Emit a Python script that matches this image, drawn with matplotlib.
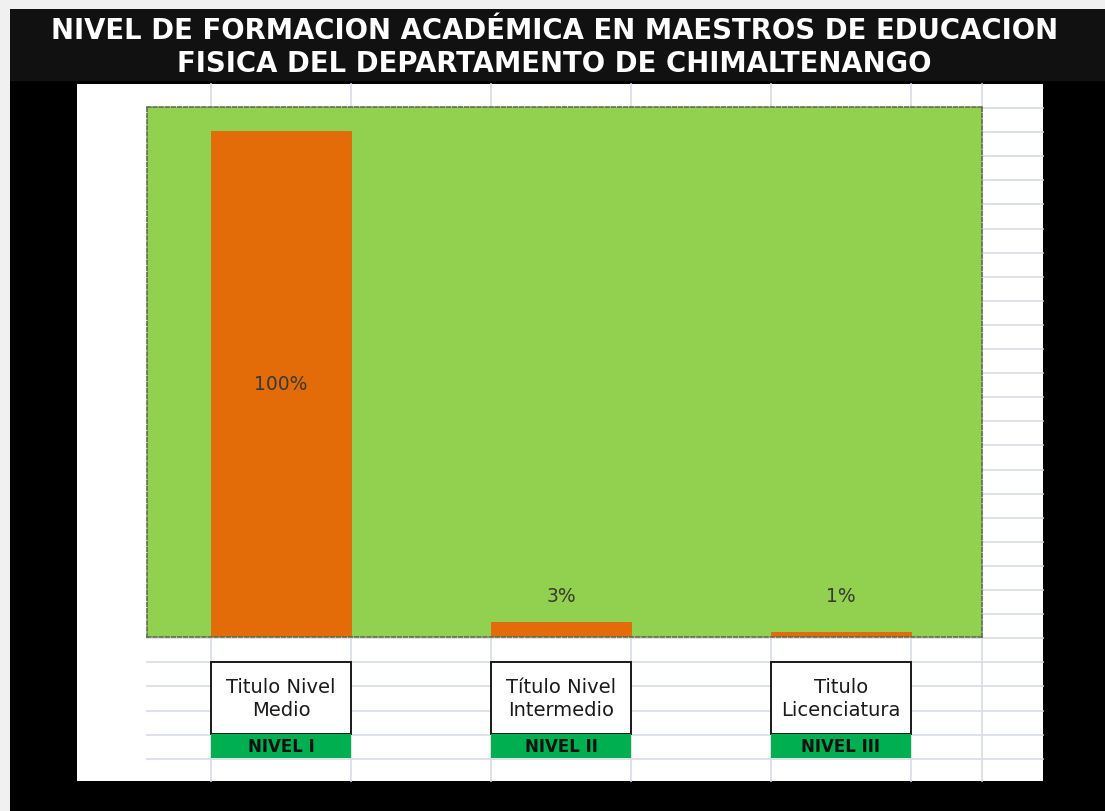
import matplotlib
matplotlib.use("Agg")
import matplotlib.pyplot as plt
from matplotlib.patches import Rectangle
import matplotlib.transforms as mtransforms

# data
categorias = ["Titulo Nivel\nMedio", "Título Nivel\nIntermedio", "Titulo\nLicenciatura"]
niveles = ["NIVEL I", "NIVEL II", "NIVEL III"]
porcentajes = [100, 3, 1]
etiquetas = ["100%", "3%", "1%"]

titulo = ["NIVEL DE FORMACION ACADÉMICA EN MAESTROS DE EDUCACION",
          "FISICA DEL DEPARTAMENTO DE CHIMALTENANGO"]

W, H = 1105, 812
fig = plt.figure(figsize=(W / 100, H / 100), dpi=100, facecolor="black")

# background "sheet" drawn in pixel coords
bg = fig.add_axes([0, 0, 1, 1])
bg.set_xlim(0, W)
bg.set_ylim(H, 0)
bg.axis("off")
bg.add_patch(Rectangle((0, 0), W, 10, color="#f0f0f0", lw=0))
bg.add_patch(Rectangle((0, 0), 10, H, color="#f0f0f0", lw=0))
bg.add_patch(Rectangle((10, 10), W - 10, 72, color="#111111", lw=0))
bg.add_patch(Rectangle((77, 85), 966, 697, color="white", lw=0))

grid_c = "#d9dce6"
for gx in [211, 351, 491, 631, 771, 911, 982]:
    bg.plot([gx, gx], [85, 782], color=grid_c, lw=1.2)
gy = 109
while gy < 782:
    bg.plot([147, 1043], [gy, gy], color=grid_c, lw=1.2)
    gy += 24.1

for k, line in enumerate(titulo):
    bg.text(W / 2 + 2, 31 + 32.5 * k, line, color="white", fontsize=19.8,
            fontweight="bold", ha="center", va="center", family="DejaVu Sans")

# chart area
ax = fig.add_axes([147 / W, (H - 638) / H, 835 / W, 530 / H])
ax.set_facecolor("#92D050")
x = list(range(len(porcentajes)))
ax.bar(x, porcentajes, width=0.5, color="#E36C09", edgecolor="#d8690f", lw=0.6, zorder=2)
ax.set_xlim(-0.4786, 2.5036)
ax.set_ylim(0, 104.7)
ax.set_xticks([])
ax.set_yticks([])
for s in ax.spines.values():
    s.set_linestyle((0, (2.5, 1.5)))
    s.set_color("#5b6447")
    s.set_linewidth(1.1)

for xi, v, lab in zip(x, porcentajes, etiquetas):
    yl = v / 2 if v > 20 else 8.1
    ax.text(xi, yl, lab, ha="center", va="center", fontsize=13.5,
            color="#3a3a30", zorder=3)

# category boxes below the axis (x in data units, y in pixels)
tr = mtransforms.blended_transform_factory(ax.transData, bg.transData)
for xi, cat, niv in zip(x, categorias, niveles):
    bg.add_patch(Rectangle((xi - 0.25, 663), 0.5, 72, transform=tr,
                           facecolor="white", edgecolor="#1a1a1a", lw=1.4, zorder=3))
    bg.add_patch(Rectangle((xi - 0.25, 735), 0.5, 24, transform=tr,
                           facecolor="#00B050", edgecolor="none", zorder=3))
    bg.text(xi, 699, cat, transform=tr, ha="center", va="center", fontsize=14,
            linespacing=1.3, color="#1a1a1a", zorder=4)
    bg.text(xi, 747.5, niv, transform=tr, ha="center", va="center", fontsize=12,
            fontweight="bold", color="#111111", zorder=4)

fig.savefig("out.png", dpi=100, facecolor="black")
